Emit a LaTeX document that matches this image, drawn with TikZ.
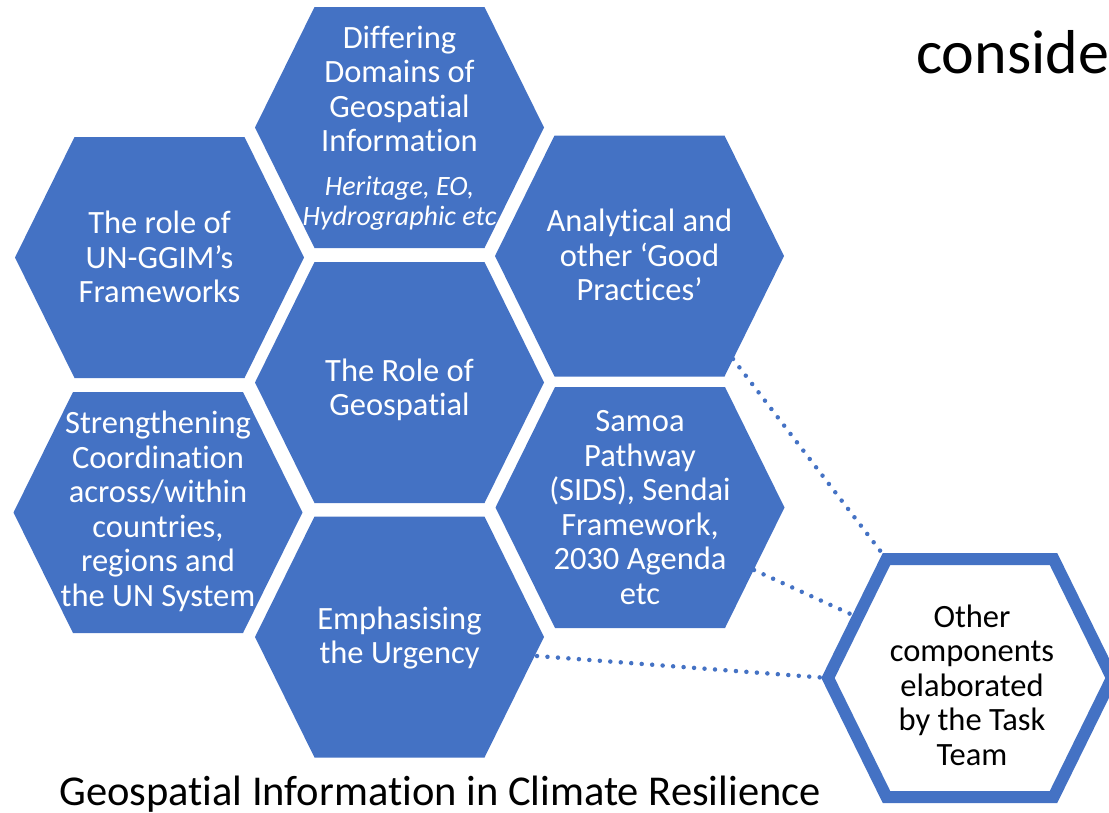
\documentclass[tikz,border=0pt]{standalone}
\usepackage{fontspec}
\setmainfont{Carlito}[Ligatures=NoCommon]
\definecolor{hexblue}{HTML}{4472C4}

\tikzset{
  hexcell/.style={fill=hexblue},
  hexring/.style={draw=hexblue, line width=12pt, fill=white},
  hextext/.style={text=white, align=center, inner sep=0pt, font=\fontsize{32.5}{34.5}\selectfont},
  subtext/.style={text=white, align=center, inner sep=0pt, font=\fontsize{28}{30}\selectfont\itshape},
  dotline/.style={draw=hexblue, line width=4.5pt, line cap=round, dash pattern=on 0pt off 10.5pt},
}

% hexagon with pointed left and right ends, centred at (#2,#3)
\newcommand{\hexagonat}[3]{\path[#1] (#2,#3) +(-144.5,0) -- +(-85,-120.5) -- +(85,-120.5) -- +(144.5,0) -- +(85,120.5) -- +(-85,120.5) -- cycle;}

\begin{document}
\begin{tikzpicture}[x=1pt, y=-1pt]

        \useasboundingbox (0,0) rectangle (1109,812);

        %Honeycomb cells
        \hexagonat{hexcell}{159.5}{257.5}
        \hexagonat{hexcell}{158}{512.5}
        \hexagonat{hexcell}{399.5}{127.5}
        \hexagonat{hexcell}{399.5}{382.5}
        \hexagonat{hexcell}{399.5}{637}
        \hexagonat{hexcell}{639.5}{256}
        \hexagonat{hexcell}{640}{507.5}

        %Cell texts
        \node [hextext] (frameworks)  at (159.5,257)   {The role of\\UN-GGIM’s\\Frameworks};
        \node [hextext] (coordination) at (158,511.5)  {Strengthening\\Coordination\\across/within\\countries,\\regions and\\the UN System};
        \node [hextext] (domains)     at (399.5,89)    {Differing\\Domains of\\Geospatial\\Information};
        \node [subtext] (domainsub)   at (399.5,203.5) {Heritage, EO,\\Hydrographic etc};
        \node [hextext] (geospatial)  at (399.5,390)   {The Role of\\Geospatial};
        \node [hextext] (urgency)     at (399.5,638)   {Emphasising\\the Urgency};
        \node [hextext] (practices)   at (639.5,255)   {Analytical and\\other ‘Good\\Practices’};
        \node [hextext] (agendas)     at (640,507.5)   {Samoa\\Pathway\\(SIDS), Sendai\\Framework,\\2030 Agenda\\etc};

        %Connector ends
        \coordinate (practices-se) at (733,359);
        \coordinate (agendas-se)   at (754,570);
        \coordinate (urgency-se)   at (537,656);
        \coordinate (others-nw)    at (886.5,559);
        \coordinate (others-wn)    at (857,617);
        \coordinate (others-w)     at (828,678);

        %Dotted links
        \draw [dotline] (practices-se) -- (others-nw);
        \draw [dotline] (agendas-se)   -- (others-wn);
        \draw [dotline] (urgency-se)   -- (others-w);

        %Task team cell
        \draw [hexring] (970,678) +(-142,0) -- +(-83.5,-119) -- +(83.5,-119) -- +(142,0) -- +(83.5,119) -- +(-83.5,119) -- cycle;
        \node [hextext, text=black] (others) at (972,685) {Other\\components\\elaborated\\by the Task\\Team};

        %Titles
        \node [anchor=base west, inner sep=0pt, font=\fontsize{42.5}{48}\selectfont] (title) at (59,805) {Geospatial Information in Climate Resilience};
        \node [anchor=base west, inner sep=0pt, font=\fontsize{62}{70}\selectfont] (heading) at (916,73) {conside};

\end{tikzpicture}
\end{document}
